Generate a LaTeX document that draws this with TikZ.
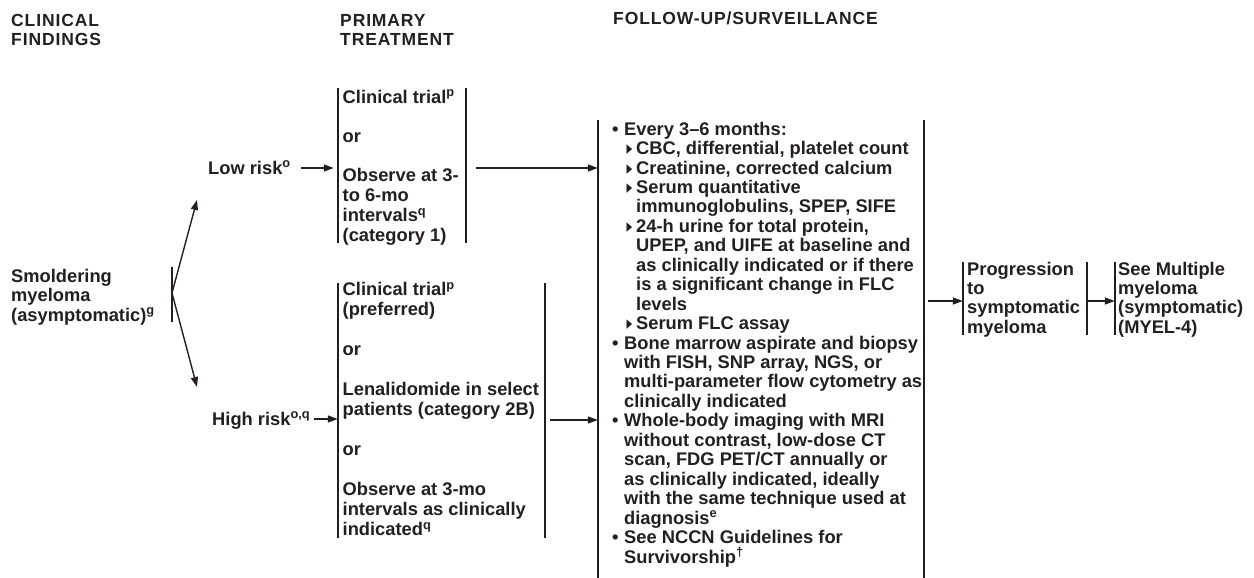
\documentclass[tikz,border=0pt]{standalone}
\usepackage{fontspec}
\usepackage{graphicx}
\setmainfont{Liberation Sans}
\newfontfamily\symfont{DejaVu Sans}
\newfontfamily\hdrfont[LetterSpace=5]{Liberation Sans}
\usetikzlibrary{arrows.meta}
\definecolor{ink}{RGB}{35,31,32}
\newcommand{\mybul}{\makebox[12pt][l]{•}}
\newcommand{\mytri}{\hspace*{14.5pt}\makebox[9.5pt][l]{\scalebox{0.6}[1]{\symfont\fontsize{19}{16}\selectfont ▸}}}
\newcommand{\myind}{\hspace*{12pt}}
\newcommand{\myindd}{\hspace*{24pt}}
\tikzset{
  txt/.style={anchor=base west, inner sep=0pt, align=left, text=ink,
    font=\bfseries\fontsize{18.3}{#1}\selectfont},
  txt/.default=19.45,
  hdr/.style={anchor=base west, inner sep=0pt, align=left, text=ink,
    font=\hdrfont\bfseries\fontsize{17.5}{19.3}\selectfont},
  frame/.style={rectangle, inner sep=0pt, minimum width=0pt, draw=none},
  bar/.style={draw=ink, line width=1.6pt},
  arr/.style={draw=ink, line width=1.4pt, -{Triangle[length=10pt,width=7pt]}}
}
\begin{document}
\begin{tikzpicture}[x=1pt,y=-1pt]
\useasboundingbox (0,0) rectangle (1254,578);

% headers (anchor: baseline of last line)
\node[hdr] (h1) at (11,46) {CLINICAL\\FINDINGS};
\node[hdr] (h2) at (340,46) {PRIMARY\\TREATMENT};
\node[hdr] (h3) at (613,25) {FOLLOW-UP/SURVEILLANCE};

% frames (brackets)
\node[frame, minimum height=55pt] (smolbar) at (172,294.5) {};
\node[frame, minimum width=128pt, minimum height=155pt] (lowbox) at (402,165.5) {};
\node[frame, minimum width=207pt, minimum height=255pt] (highbox) at (441.5,410.5) {};
\node[frame, minimum width=326pt, minimum height=458pt] (survbox) at (761,349) {};
\node[frame, minimum width=124pt, minimum height=73pt] (progbox) at (1025,298.5) {};
\node[frame, minimum width=130pt, minimum height=73pt] (seebox) at (1180,298.5) {};

\draw[bar] (smolbar.north) -- (smolbar.south);
\draw[bar] (lowbox.north west) -- (lowbox.south west);
\draw[bar] (lowbox.north east) -- (lowbox.south east);
\draw[bar] (highbox.north west) -- (highbox.south west);
\draw[bar] (highbox.north east) -- (highbox.south east);
\draw[bar] (survbox.north west) -- (survbox.south west);
\draw[bar] (survbox.north east) -- (survbox.south east);
\draw[bar] (progbox.north west) -- (progbox.south west);
\draw[bar] (progbox.north east) -- (progbox.south east);
\draw[bar] (seebox.north west) -- (seebox.south west);

% texts (anchor: baseline of last line)
\node[txt=19.5] (smol) at (11,321) {Smoldering\\myeloma\\(asymptomatic)\textsuperscript{g}};
\node[txt] (lowrisk) at (208,174) {Low risk\textsuperscript{o}};
\node[txt] (highrisk) at (212,425) {High risk\textsuperscript{o,q}};

\node[txt=19.7] (lowtxt) at (342.5,241) {Clinical trial\textsuperscript{p}\\[19.7pt]or\\[19.7pt]Observe at 3-\\to 6-mo\\intervals\textsuperscript{q}\\(category 1)};

\node[txt=20] (hightxt) at (342.5,535.5) {Clinical trial\textsuperscript{p}\\(preferred)\\[20pt]or\\[20pt]Lenalidomide in select\\patients (category 2B)\\[20pt]or\\[20pt]Observe at 3-mo\\intervals as clinically\\indicated\textsuperscript{q}};

\node[txt] (survtxt) at (612,563) {\mybul Every 3–6 months:\\
\mytri CBC, differential, platelet count\\
\mytri Creatinine, corrected calcium\\
\mytri Serum quantitative\\
\myindd immunoglobulins, SPEP, SIFE\\
\mytri 24-h urine for total protein,\\
\myindd UPEP, and UIFE at baseline and\\
\myindd as clinically indicated or if there\\
\myindd is a significant change in FLC\\
\myindd levels\\
\mytri Serum FLC assay\\
\mybul Bone marrow aspirate and biopsy\\
\myind with FISH, SNP array, NGS, or\\
\myind multi-parameter flow cytometry as\\
\myind clinically indicated\\
\mybul Whole-body imaging with MRI\\
\myind without contrast, low-dose CT\\
\myind scan, FDG PET/CT annually or\\
\myind as clinically indicated, ideally\\
\myind with the same technique used at\\
\myind diagnosis\textsuperscript{e}\\
\mybul See NCCN Guidelines for\\
\myind Survivorship\textsuperscript{†}};

\node[txt=19.3] (progtxt) at (967,333) {Progression\\to\\symptomatic\\myeloma};
\node[txt=19.3] (seetxt) at (1118,333) {See Multiple\\myeloma\\(symptomatic)\\(MYEL-4)};

% connectors
\draw[arr] ([yshift=1.5pt]smolbar.center) -- ([xshift=-11pt,yshift=-26pt]lowrisk.base west);
\draw[arr] ([yshift=1.5pt]smolbar.center) -- ([xshift=-15pt,yshift=38pt]highrisk.base west);
\draw[arr] ([xshift=10pt,yshift=6pt]lowrisk.base east) -- ([xshift=-4pt,yshift=6pt]lowrisk.base east -| lowbox.west);
\draw[arr] ([xshift=4pt,yshift=6pt]highrisk.base east) -- ([yshift=6pt]highrisk.base east -| highbox.west);
\draw[arr] ([xshift=10pt,yshift=-2.5pt]lowbox.east) -- ([yshift=-2.5pt]lowbox.east -| survbox.west);
\draw[arr] ([xshift=5pt,yshift=-9.5pt]highbox.east) -- ([yshift=-9.5pt]highbox.east -| survbox.west);
\draw[arr] ([xshift=4pt,yshift=-2.5pt]progbox.west -| survbox.east) -- ([yshift=-2.5pt]progbox.west);
\draw[arr] ([yshift=-2.5pt]progbox.east) -- ([yshift=-2.5pt]progbox.east -| seebox.west);
\end{tikzpicture}
\end{document}
